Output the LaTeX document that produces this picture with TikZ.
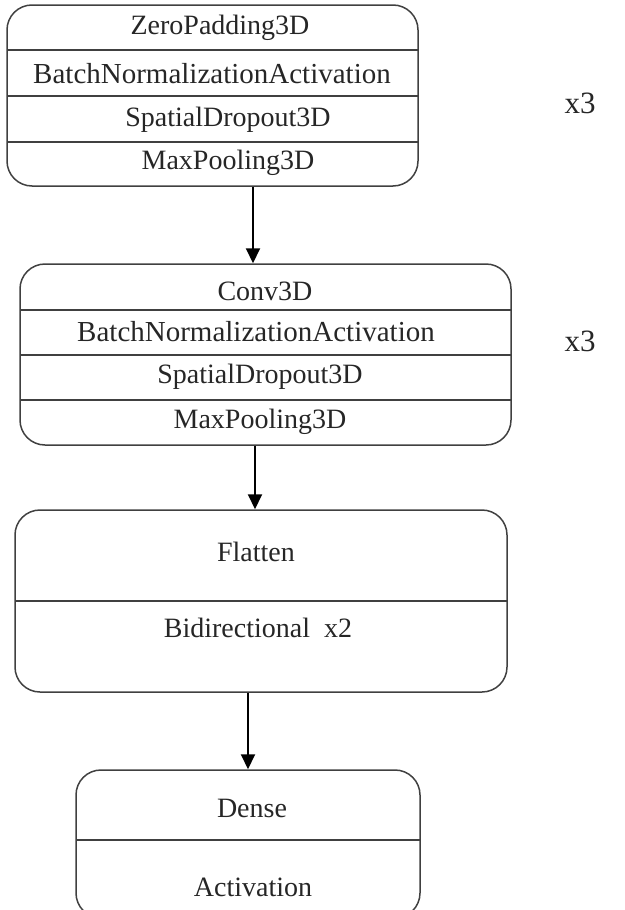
\documentclass[tikz,border=0pt]{standalone}
\usepackage{fontspec}
\setmainfont{Liberation Serif}
\usetikzlibrary{arrows.meta}
\begin{document}
\begin{tikzpicture}[x=1pt,y=-1pt,
  box/.style={draw=black!75,line width=1.5pt,rounded corners=25pt,inner sep=0pt},
  divline/.style={draw=black!75,line width=1.3pt},
  lbl/.style={font=\fontsize{28}{30}\selectfont,text=black!85,inner sep=0pt,anchor=center},
  wide/.style={font=\fontsize{29}{31}\selectfont,text=black!85,inner sep=0pt,anchor=center},
  big/.style={font=\fontsize{31}{33}\selectfont,text=black!85,inner sep=0pt,anchor=center},
  arr/.style={draw=black,line width=2pt,-{Triangle[length=15pt,width=14pt]}}]
\useasboundingbox (0,0) rectangle (624,910);
\begin{scope}
\clip (0,0) rectangle (624,910);
% Box 1
\node[box,minimum width=411pt,minimum height=181pt] (b1) at (212.5,95.5) {};
\draw[divline] (7,50) -- (418,50);
\draw[divline] (7,96) -- (418,96);
\draw[divline] (7,142) -- (418,142);
\node[lbl] (t11) at (220,28) {ZeroPadding3D};
\node[wide] (t12) at (212,74) {BatchNormalizationActivation};
\node[lbl] (t13) at (228,120) {SpatialDropout3D};
\node[lbl] (t14) at (228,163) {MaxPooling3D};
\node[big] (x1) at (580,103) {x3};
% Box 2
\node[box,minimum width=491pt,minimum height=181pt] (b2) at (265.5,354.5) {};
\draw[divline] (20,310) -- (511,310);
\draw[divline] (20,355) -- (511,355);
\draw[divline] (20,400) -- (511,400);
\node[lbl] (t21) at (265,291) {Conv3D};
\node[wide] (t22) at (256,332) {BatchNormalizationActivation};
\node[lbl] (t23) at (260,377) {SpatialDropout3D};
\node[lbl] (t24) at (260,422) {MaxPooling3D};
\node[big] (x2) at (580,341) {x3};
% Box 3
\node[box,minimum width=492pt,minimum height=182pt] (b3) at (261,601) {};
\draw[divline] (15,601) -- (507,601);
\node[lbl] (t31) at (256,552) {Flatten};
\node[lbl] (t32) at (258,628) {Bidirectional\ \ x2};
% Box 4
\node[box,minimum width=344pt,minimum height=148pt] (b4) at (248,844) {};
\draw[divline] (76,840) -- (420,840);
\node[lbl] (t41) at (252,808) {Dense};
\node[lbl] (t42) at (253,887) {Activation};
% connectors
\coordinate (s1) at (253,0);
\coordinate (s2) at (255,0);
\coordinate (s3) at (248,0);
\draw[arr] (b1.south -| s1) -- (b2.north -| s1);
\draw[arr] (b2.south -| s2) -- (b3.north -| s2);
\draw[arr] (b3.south -| s3) -- (b4.north -| s3);
\end{scope}
\end{tikzpicture}
\end{document}
